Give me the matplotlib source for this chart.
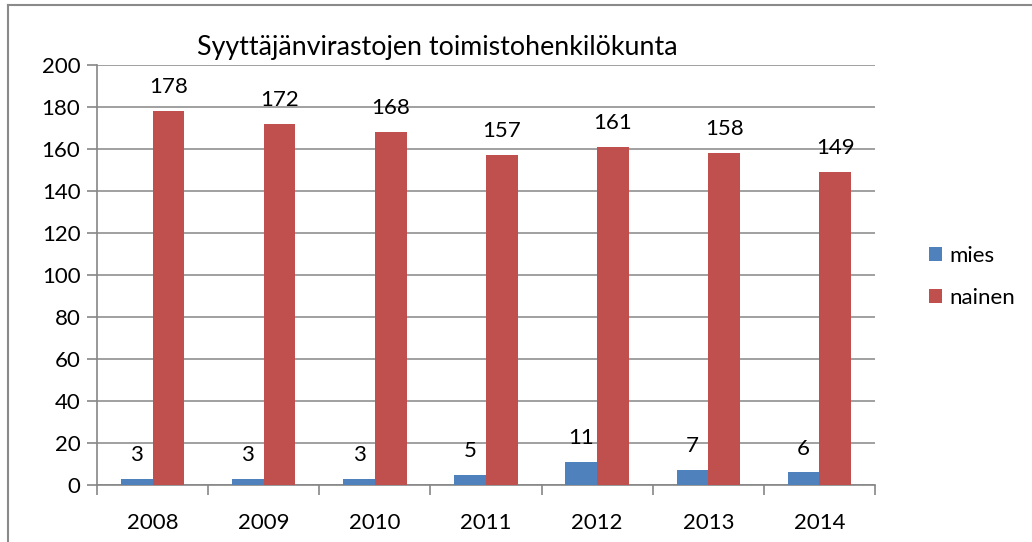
import matplotlib
matplotlib.use("Agg")
import matplotlib.pyplot as plt
from matplotlib.lines import Line2D
import numpy as np

years = ["2008", "2009", "2010", "2011", "2012", "2013", "2014"]
mies = [3, 3, 3, 5, 11, 7, 6]
nainen = [178, 172, 168, 157, 161, 158, 149]
title = "Syyttäjänvirastojen toimistohenkilökunta"

plt.rcParams['font.family'] = ['Lato', 'DejaVu Sans']
W, H = 1032, 542
fig = plt.figure(figsize=(W/100, H/100), dpi=100)
ax = fig.add_axes([97/W, 57/H, (875-97)/W, 420/H])

x = np.arange(len(years))
w = 0.285
blue = "#4F81BD"
red = "#C0504D"
b1 = ax.bar(x - w/2, mies, w, color=blue, label="mies", zorder=3)
b2 = ax.bar(x + w/2, nainen, w, color=red, label="nainen", zorder=3)

for bars, vals in ((b1, mies), (b2, nainen)):
    for r, v in zip(bars, vals):
        ax.annotate(str(v), (r.get_x() + r.get_width()/2, v), xytext=(0, 10),
                    textcoords="offset points", ha="center", va="bottom", fontsize=16)

ax.set_xlim(-0.5, len(years) - 0.5)
ax.set_ylim(0, 200)
ax.set_yticks(np.arange(0, 201, 20))
ax.set_xticks(x)
ax.set_xticklabels(years)
ax.set_xticks(np.arange(-0.5, len(years)), minor=True)
ax.tick_params(axis='x', which='major', length=0, labelsize=16, pad=20)
ax.tick_params(axis='x', which='minor', length=7, color="#868686", width=1.2)
ax.tick_params(axis='y', length=7, color="#868686", width=1.2, labelsize=16, pad=5)
ax.grid(axis='y', color="#868686", linewidth=1.1, zorder=0)
for s in ("top", "right"):
    ax.spines[s].set_visible(False)
for s in ("left", "bottom"):
    ax.spines[s].set_color("#868686")
    ax.spines[s].set_linewidth(1.2)

fig.text(437/W, 1 - 47/H, title, ha="center", va="center", fontsize=19.3)

ax.legend(loc="center left", bbox_to_anchor=(929/W, 1 - 277/H), bbox_transform=fig.transFigure,
          frameon=False, fontsize=16, handlelength=0.6, handleheight=0.6,
          handletextpad=0.3, labelspacing=1.0, borderaxespad=0, borderpad=0)

fig.add_artist(Line2D([8/W, 8/W], [0, 1 - 4.5/H], color="#8a8a8a", lw=1.5))
fig.add_artist(Line2D([8/W, 1031/W], [1 - 4.5/H, 1 - 4.5/H], color="#8a8a8a", lw=1.5))

fig.savefig("out.png", dpi=100)
